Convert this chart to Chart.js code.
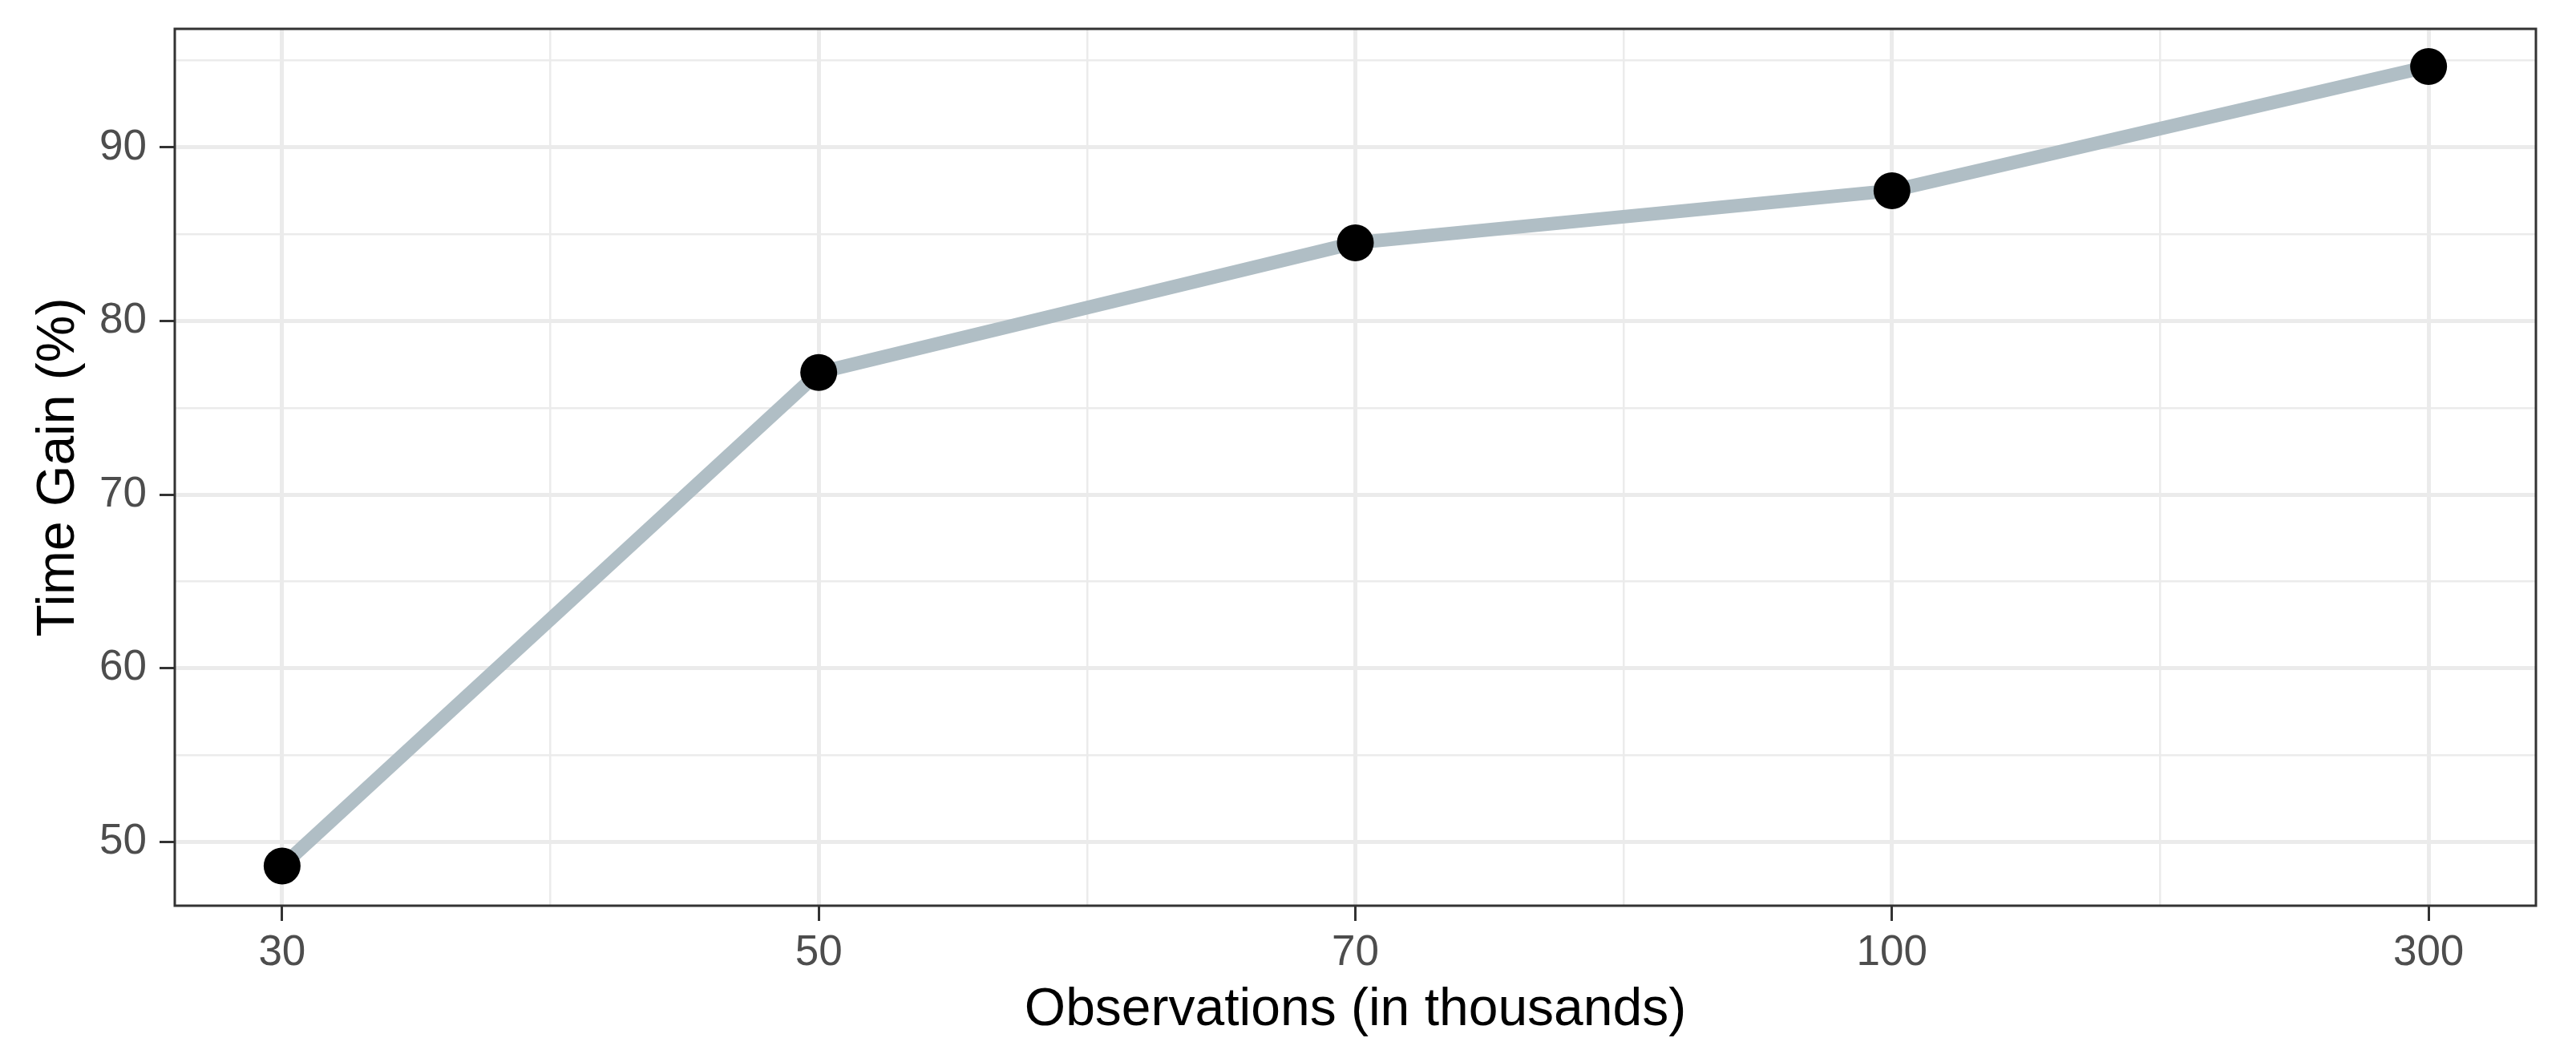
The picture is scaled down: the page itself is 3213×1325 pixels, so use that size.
<!DOCTYPE html>
<html>
<head>
<meta charset="utf-8">
<script src="https://cdn.jsdelivr.net/npm/chart.js@4.4.1/dist/chart.umd.min.js"></script>
<style>
  html, body { margin: 0; padding: 0; background: #ffffff; }
  #wrap { width: 3213px; height: 1325px; }
</style>
</head>
<body>
<div id="wrap"><canvas id="gainChart" width="3213" height="1325"></canvas></div>
<script>
  // observations (in thousands), shown evenly spaced
  const obsLabels = ['30', '50', '70', '100', '300'];
  const obsPos = [1, 2, 3, 4, 5];
  const timeGain = [48.62, 77.04, 84.51, 87.51, 94.66];

  const xTicks = [1, 1.5, 2, 2.5, 3, 3.5, 4, 4.5, 5];
  const yTicks = [50, 55, 60, 65, 70, 75, 80, 85, 90, 95];

  const tickFont = { family: '"Liberation Sans", Arial, sans-serif', size: 53 };
  const titleFont = { family: '"Liberation Sans", Arial, sans-serif', size: 66 };

  const isMajor = v => Number.isInteger(v);
  const isMajorY = v => v % 10 === 0;

  // ggplot-like panel border
  const panelBorder = {
    id: 'panelBorder',
    afterDraw(chart) {
      const a = chart.chartArea, ctx = chart.ctx;
      ctx.save();
      ctx.strokeStyle = '#333333';
      ctx.lineWidth = 3;
      ctx.strokeRect(a.left, a.top, a.right - a.left, a.bottom - a.top);
      ctx.restore();
    }
  };

  const data = {
    datasets: [{
      data: obsPos.map((x, i) => ({ x: x, y: timeGain[i] })),
      borderColor: '#B0BEC5',
      borderWidth: 17,
      tension: 0,
      pointRadius: 23,
      pointHoverRadius: 23,
      pointBackgroundColor: '#000000',
      pointBorderWidth: 0
    }]
  };

  const config = {
    type: 'line',
    data: data,
    options: {
      responsive: false,
      animation: false,
      layout: { padding: { left: 0, right: 50, top: 36, bottom: 0 } },
      plugins: { legend: { display: false }, tooltip: { enabled: false } },
      scales: {
        x: {
          type: 'linear',
          min: 0.8,
          max: 5.2,
          afterBuildTicks: s => { s.ticks = xTicks.map(v => ({ value: v })); },
          afterFit: s => { s.height = 195; s.paddingLeft = 0; s.paddingRight = 0; },
          border: { display: false },
          grid: {
            color: '#EBEBEB',
            lineWidth: c => isMajor(c.tick.value) ? 5 : 2.5,
            tickColor: c => isMajor(c.tick.value) ? '#333333' : 'rgba(0,0,0,0)',
            tickWidth: 3,
            tickLength: 19
          },
          ticks: {
            autoSkip: false,
            maxRotation: 0,
            padding: 9,
            color: '#4D4D4D',
            font: tickFont,
            callback: v => isMajor(v) ? obsLabels[v - 1] : ''
          },
          title: {
            display: true,
            text: 'Observations (in thousands)',
            color: '#000000',
            font: titleFont,
            padding: { top: 0, bottom: 25 }
          }
        },
        y: {
          min: 46.33,
          max: 96.83,
          afterBuildTicks: s => { s.ticks = yTicks.map(v => ({ value: v })); },
          afterFit: s => { s.width = 218; s.paddingTop = 0; s.paddingBottom = 0; },
          border: { display: false },
          grid: {
            color: '#EBEBEB',
            lineWidth: c => isMajorY(c.tick.value) ? 5 : 2.5,
            tickColor: c => isMajorY(c.tick.value) ? '#333333' : 'rgba(0,0,0,0)',
            tickWidth: 3,
            tickLength: 19
          },
          ticks: {
            autoSkip: false,
            padding: 16,
            color: '#4D4D4D',
            font: tickFont,
            callback: v => isMajorY(v) ? String(v) : ''
          },
          title: {
            display: true,
            text: 'Time Gain (%)',
            color: '#000000',
            font: titleFont,
            padding: { top: 34, bottom: 0 }
          }
        }
      }
    },
    plugins: [panelBorder]
  };

  var gainChart = new Chart(document.getElementById('gainChart'), config);
</script>
</body>
</html>
